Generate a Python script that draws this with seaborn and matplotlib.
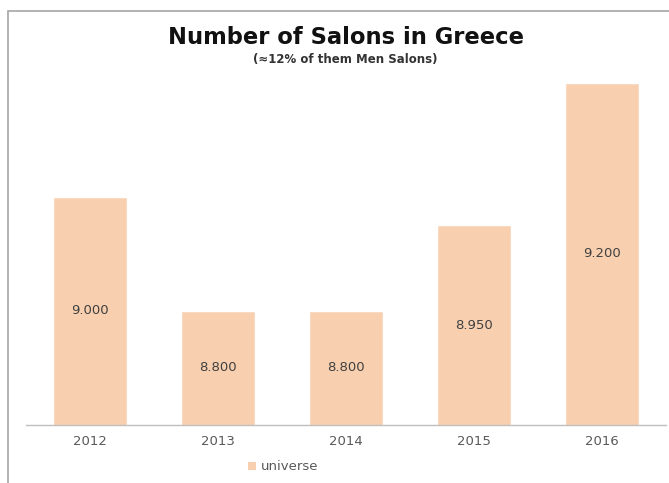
import matplotlib
matplotlib.use("Agg")
import matplotlib.pyplot as plt
import seaborn as sns
import pandas as pd
from matplotlib.patches import Rectangle, Patch

years = ["2012", "2013", "2014", "2015", "2016"]
salons = [9000, 8800, 8800, 8950, 9200]
series_name = "universe"
title = "Number of Salons in Greece"
subtitle = "(≈12% of them Men Salons)"

sns.set_theme(style="white")
plt.rcParams['font.family'] = ['DejaVu Sans']

df = pd.DataFrame({"year": years, "value": salons})
bar_color = "#F8D0B0"

fig = plt.figure(figsize=(6.69, 4.83), dpi=100)
W, H = 669, 483
ax = fig.add_axes([26 / W, (H - 425) / H, (666 - 26) / W, (425 - 60) / H])

sns.barplot(data=df, x="year", y="value", color=bar_color, width=0.58,
            saturation=1, ax=ax, zorder=2)
ax.set_ylim(8600, 9240)

for c in ax.containers:
    labels = [f"{v:,.0f}".replace(",", ".") for v in c.datavalues]
    ax.bar_label(c, labels=labels, label_type="center", fontsize=9.5,
                 color="#404040")

ax.set_xlabel("")
ax.set_ylabel("")
ax.set_yticks([])
for s in ["top", "right", "left"]:
    ax.spines[s].set_visible(False)
ax.spines["bottom"].set_color("#BFBFBF")
ax.spines["bottom"].set_linewidth(1)
ax.tick_params(axis="x", length=0, labelsize=9.5, colors="#595959", pad=7)

# figure frame
fig.patches.append(Rectangle((8 / W, -0.1), 1.2, (H - 11) / H + 0.1,
                             transform=fig.transFigure, fill=False,
                             edgecolor="#A6A6A6", linewidth=1.2))

fig.text(346 / W, 1 - 38 / H, title, ha="center", va="center",
         fontsize=16.3, fontweight="bold", color="#111111")
fig.text(345 / W, 1 - 60 / H, subtitle, ha="center", va="center",
         fontsize=8.5, fontweight="bold", color="#333333")

handles = [Patch(facecolor=bar_color, edgecolor="none")]
fig.legend(handles, [series_name], loc="center", bbox_to_anchor=(283 / W, 1 - 467 / H),
           frameon=False, fontsize=9.5, handlelength=0.6, handleheight=0.6,
           handletextpad=0.4, labelcolor="#595959")

fig.savefig("out.png", dpi=100)
